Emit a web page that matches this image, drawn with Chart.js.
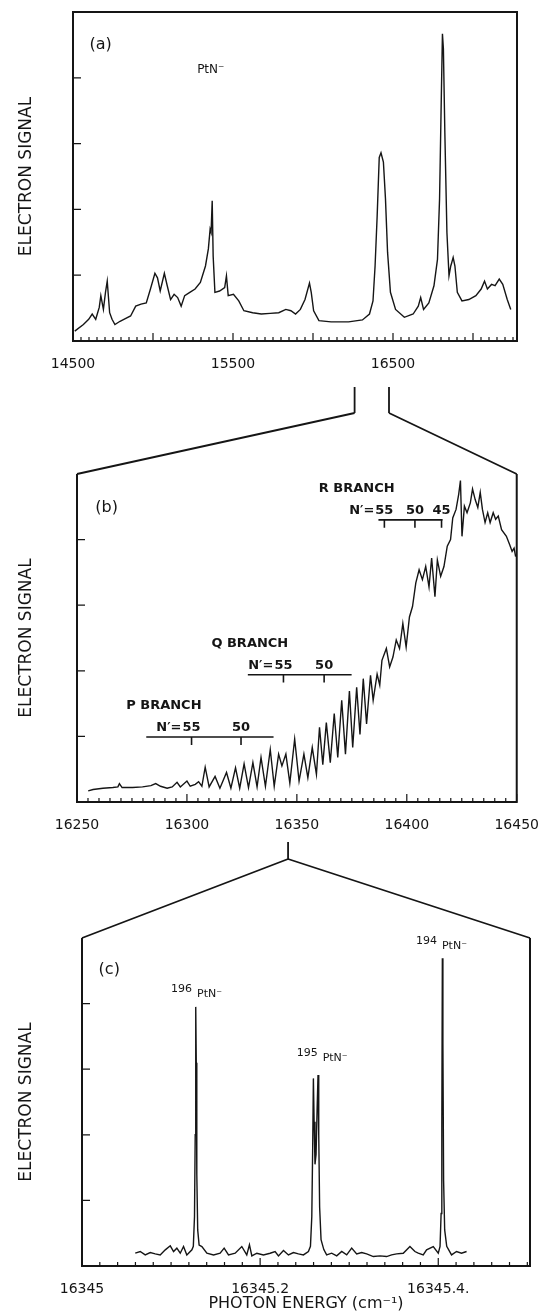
<!DOCTYPE html>
<html>
<head>
<meta charset="utf-8">
<title>PtN- photodetachment spectra</title>
<script src="https://cdn.jsdelivr.net/npm/chart.js@4.4.1/dist/chart.umd.min.js"></script>
<style>
  html, body { margin: 0; padding: 0; background: #fff; }
  #page { position: relative; width: 546px; height: 1313px; overflow: hidden; }
  .panel { position: absolute; left: 0; width: 546px; }
  #boxA { top: 0; height: 380px; }
  #boxB { top: 380px; height: 450px; }
  #boxC { top: 830px; height: 483px; }
</style>
</head>
<body>
<div id="page">
  <div class="panel" id="boxA"><canvas id="chartA"></canvas></div>
  <div class="panel" id="boxB"><canvas id="chartB"></canvas></div>
  <div class="panel" id="boxC"><canvas id="chartC"></canvas></div>
</div>
<script>
const INK = '#151515';
const FAMILY = "'DejaVu Sans', sans-serif";
Chart.defaults.font.family = FAMILY;
Chart.defaults.color = INK;

// (a) survey scan
const aEnergy = [14511, 14565, 14598, 14620, 14642, 14664, 14674, 14690, 14703, 14714,
  14729, 14744, 14762, 14794, 14827, 14860, 14892, 14925, 14958, 14984,
  15012, 15028, 15045, 15071, 15089, 15110, 15132, 15154, 15176, 15198,
  15230, 15263, 15296, 15328, 15346, 15357, 15363, 15370, 15376, 15387,
  15416, 15448, 15459, 15470, 15503, 15536, 15568, 15623, 15677, 15732,
  15786, 15830, 15862, 15891, 15921, 15950, 15978, 15989, 16004, 16037,
  16113, 16222, 16309, 16353, 16375, 16388, 16401, 16414, 16425, 16440,
  16453, 16466, 16484, 16516, 16571, 16626, 16658, 16673, 16691, 16724,
  16756, 16778, 16791, 16800, 16809, 16815, 16824, 16837, 16850, 16861,
  16867, 16876, 16887, 16902, 16931, 16974, 17018, 17051, 17072, 17090,
  17116, 17138, 17164, 17186, 17214, 17236];
const aSignal = [0.15, 0.25, 0.33, 0.41, 0.33, 0.51, 0.69, 0.48, 0.74, 0.91,
  0.43, 0.33, 0.25, 0.30, 0.34, 0.38, 0.53, 0.56, 0.58, 0.79,
  1.03, 0.96, 0.76, 1.03, 0.84, 0.63, 0.71, 0.66, 0.53, 0.69,
  0.74, 0.79, 0.89, 1.14, 1.40, 1.70, 1.65, 2.13, 1.29, 0.74,
  0.76, 0.81, 0.99, 0.69, 0.71, 0.61, 0.46, 0.43, 0.41, 0.42,
  0.43, 0.48, 0.46, 0.41, 0.48, 0.63, 0.88, 0.74, 0.46, 0.31,
  0.29, 0.29, 0.32, 0.41, 0.61, 1.14, 1.90, 2.79, 2.86, 2.72,
  2.16, 1.35, 0.74, 0.48, 0.36, 0.41, 0.53, 0.66, 0.48, 0.58,
  0.84, 1.24, 2.16, 3.43, 4.67, 4.44, 3.17, 1.65, 0.99, 1.14,
  1.19, 1.27, 1.14, 0.74, 0.61, 0.63, 0.69, 0.79, 0.91, 0.79,
  0.86, 0.84, 0.94, 0.86, 0.63, 0.48];
const aTickValues = [14500, 15500, 16500];
const aTickLabels = ['14500', '15500', '16500'];

// (b) rotational structure of the band
const bEnergy = [16255.1, 16257.3, 16261.8, 16266.3, 16268.6, 16269.3, 16270.5, 16275.3, 16279.8, 16283.6,
  16285.8, 16288.0, 16291.0, 16293.3, 16295.5, 16297.0, 16300.0, 16301.5, 16303.8, 16305.3,
  16306.8, 16308.3, 16310.1, 16312.8, 16315.0, 16318.0, 16320.0, 16322.1, 16324.0, 16326.0,
  16328.0, 16330.0, 16331.9, 16333.7, 16335.7, 16337.9, 16339.7, 16341.7, 16343.2, 16345.0,
  16346.8, 16349.0, 16351.0, 16353.2, 16355.0, 16357.0, 16358.9, 16360.3, 16361.8, 16363.4,
  16365.2, 16367.0, 16368.6, 16370.4, 16372.1, 16373.9, 16375.4, 16377.2, 16378.7, 16380.2,
  16381.7, 16383.5, 16384.7, 16386.5, 16387.7, 16388.7, 16390.7, 16392.2, 16393.7, 16395.2,
  16396.7, 16398.2, 16399.7, 16401.2, 16402.6, 16404.1, 16405.6, 16407.1, 16408.6, 16410.1,
  16411.3, 16412.8, 16413.9, 16415.4, 16416.9, 16418.4, 16419.9, 16420.9, 16422.4, 16423.6,
  16424.4, 16425.1, 16426.2, 16427.4, 16428.9, 16429.9, 16431.1, 16432.3, 16433.4, 16434.4,
  16435.6, 16436.8, 16437.9, 16439.3, 16440.4, 16441.6, 16443.1, 16445.3, 16446.8, 16447.9,
  16448.8, 16449.5];
const bSignal = [0.17, 0.19, 0.21, 0.22, 0.23, 0.28, 0.22, 0.22, 0.23, 0.25,
  0.28, 0.24, 0.21, 0.23, 0.30, 0.23, 0.32, 0.24, 0.27, 0.31,
  0.24, 0.53, 0.23, 0.39, 0.21, 0.45, 0.21, 0.52, 0.21, 0.58,
  0.22, 0.60, 0.23, 0.68, 0.24, 0.80, 0.24, 0.73, 0.55, 0.73,
  0.29, 0.96, 0.32, 0.73, 0.37, 0.83, 0.42, 1.14, 0.57, 1.21,
  0.60, 1.35, 0.68, 1.55, 0.73, 1.69, 0.83, 1.75, 1.03, 1.88,
  1.19, 1.93, 1.55, 1.95, 1.78, 2.16, 2.34, 2.06, 2.21, 2.47,
  2.34, 2.72, 2.36, 2.82, 2.98, 3.34, 3.54, 3.39, 3.59, 3.28,
  3.72, 3.13, 3.69, 3.44, 3.59, 3.90, 4.00, 4.33, 4.46, 4.69,
  4.90, 4.05, 4.51, 4.41, 4.56, 4.77, 4.61, 4.49, 4.72, 4.46,
  4.26, 4.41, 4.26, 4.41, 4.31, 4.36, 4.15, 4.05, 3.92, 3.82,
  3.87, 3.74];
const bTickValues = [16250, 16300, 16350, 16400, 16450];
const bTickLabels = ['16250', '16300', '16350', '16400', '16450'];

// branch rulers in (b)
const branchNames = ['P BRANCH', 'Q BRANCH', 'R BRANCH'];
const branchNameX = [16289.5, 16328.6, 16377.2];
const branchLevel = [0.99, 1.94, 4.30];
const branchStart = [16281.5, 16327.7, 16387.1];
const branchEnd = [16339.4, 16374.9, 16416.3];
const branchN = [[55, 50], [55, 50], [55, 50, 45]];
const branchNAt = [[16302.1, 16324.6], [16343.9, 16362.4], [16389.8, 16403.7, 16415.8]];

// (c) single line, isotopes resolved
const cEnergy = [16345.0598, 16345.0654, 16345.0710, 16345.0766, 16345.0822, 16345.0878, 16345.0935, 16345.0991, 16345.1028, 16345.1065,
  16345.1103, 16345.1140, 16345.1177, 16345.1234, 16345.1250, 16345.1263, 16345.1271, 16345.1277, 16345.1283, 16345.1289,
  16345.1299, 16345.1315, 16345.1346, 16345.1402, 16345.1477, 16345.1551, 16345.1596, 16345.1645, 16345.1720, 16345.1794,
  16345.1850, 16345.1880, 16345.1907, 16345.1963, 16345.2037, 16345.2112, 16345.2168, 16345.2206, 16345.2262, 16345.2318,
  16345.2374, 16345.2430, 16345.2486, 16345.2542, 16345.2565, 16345.2580, 16345.2590, 16345.2598, 16345.2606, 16345.2616,
  16345.2628, 16345.2640, 16345.2650, 16345.2658, 16345.2668, 16345.2684, 16345.2715, 16345.2747, 16345.2803, 16345.2860,
  16345.2916, 16345.2972, 16345.3028, 16345.3084, 16345.3140, 16345.3196, 16345.3271, 16345.3346, 16345.3420, 16345.3476,
  16345.3533, 16345.3607, 16345.3682, 16345.3738, 16345.3775, 16345.3831, 16345.3869, 16345.3944, 16345.4000, 16345.4020,
  16345.4032, 16345.4040, 16345.4046, 16345.4052, 16345.4060, 16345.4072, 16345.4095, 16345.4149, 16345.4205, 16345.4261,
  16345.4318];
const cSignal = [0.195, 0.221, 0.169, 0.205, 0.185, 0.169, 0.246, 0.308, 0.221, 0.272,
  0.195, 0.297, 0.169, 0.246, 0.30, 0.75, 2.0, 3.95, 3.1, 1.4,
  0.55, 0.32, 0.297, 0.195, 0.169, 0.195, 0.272, 0.169, 0.195, 0.297,
  0.169, 0.323, 0.154, 0.195, 0.169, 0.195, 0.221, 0.154, 0.236, 0.169,
  0.205, 0.185, 0.169, 0.221, 0.30, 0.75, 1.8, 2.86, 2.2, 1.55,
  1.7, 2.4, 2.91, 2.0, 0.9, 0.4, 0.25, 0.169, 0.195, 0.154,
  0.221, 0.169, 0.272, 0.185, 0.205, 0.185, 0.144, 0.154, 0.144, 0.169,
  0.185, 0.195, 0.297, 0.221, 0.195, 0.169, 0.246, 0.297, 0.195, 0.30,
  0.8, 2.2, 4.69, 3.4, 1.3, 0.55, 0.30, 0.169, 0.221, 0.195,
  0.221];
const cTickValues = [16345, 16345.2, 16345.4];
const cTickLabels = ['16345', '16345.2', '16345.4.'];

const isoMass = ['196', '195', '194'];
const isoX = [16345.100, 16345.241, 16345.375];
const isoY = [4.15, 3.17, 4.87];

const panelTags = ['(a)', '(b)', '(c)'];
const yTickValues = [1, 2, 3, 4];
const yTitle = 'ELECTRON SIGNAL';
const xTitle = 'PHOTON ENERGY (cm\u207B\u00B9)';

const charts = {};

function zip(xs, ys) {
  const pts = [];
  for (let i = 0; i < Math.min(xs.length, ys.length); i++) pts.push({ x: xs[i], y: ys[i] });
  return pts;
}

function onStep(v, step) {
  const r = v / step;
  return Math.abs(r - Math.round(r)) < 1e-4;
}

function labelFor(values, labels) {
  return v => {
    const i = values.findIndex(t => Math.abs(t - v) < 1e-6);
    return i < 0 ? '' : labels[i];
  };
}

// ruler with short ticks for one rotational branch
function rulerPoints(i) {
  const lv = branchLevel[i];
  const pts = [{ x: branchStart[i], y: lv }, { x: branchEnd[i], y: lv }];
  branchNAt[i].forEach(v => {
    pts.push({ x: v, y: null });
    pts.push({ x: v, y: lv });
    pts.push({ x: v, y: lv - 0.12 });
  });
  return pts;
}

function decor(p) {
  return {
    id: 'decor',
    afterDatasetsDraw(chart) {
      const { ctx, chartArea: ca, scales: { x, y } } = chart;
      ctx.save();
      ctx.strokeStyle = INK;
      ctx.fillStyle = INK;

      // expansion lines from the panel above
      if (p.link && charts[p.link.from]) {
        const src = charts[p.link.from].scales.x;
        const xs = p.link.values.map(v => src.getPixelForValue(v));
        ctx.lineWidth = 1.8;
        ctx.beginPath();
        xs.forEach(px => { ctx.moveTo(px, p.link.y0); ctx.lineTo(px, p.link.y1); });
        ctx.moveTo(ca.left, ca.top); ctx.lineTo(xs[0], p.link.y1);
        ctx.moveTo(ca.right, ca.top); ctx.lineTo(xs[xs.length - 1], p.link.y1);
        ctx.stroke();
      }

      // frame
      ctx.lineWidth = 2;
      ctx.beginPath();
      if (p.closed) {
        ctx.rect(ca.left, ca.top, ca.right - ca.left, ca.bottom - ca.top);
      } else {
        ctx.moveTo(ca.left, ca.top); ctx.lineTo(ca.left, ca.bottom);
        ctx.lineTo(ca.right, ca.bottom); ctx.lineTo(ca.right, ca.top);
      }
      ctx.stroke();

      // inward tick marks
      ctx.lineWidth = 1.2;
      ctx.beginPath();
      x.ticks.forEach(t => {
        if (!onStep(t.value, p.xMinor)) return;
        const px = x.getPixelForValue(t.value);
        const len = onStep(t.value, p.xMajor) ? 8 : 4;
        ctx.moveTo(px, ca.bottom); ctx.lineTo(px, ca.bottom - len);
      });
      yTickValues.forEach(v => {
        const py = y.getPixelForValue(v);
        ctx.moveTo(ca.left, py); ctx.lineTo(ca.left + 8, py);
      });
      ctx.stroke();

      // free text
      ctx.textBaseline = 'middle';
      (p.texts || []).forEach(t => {
        ctx.font = t.font;
        ctx.textAlign = 'center';
        ctx.fillText(t.text, x.getPixelForValue(t.x), y.getPixelForValue(t.y));
      });

      // branch names and N' numbers
      if (p.branches) {
        branchNames.forEach((name, i) => {
          const lineY = y.getPixelForValue(branchLevel[i]);
          ctx.font = 'bold 13px ' + FAMILY;
          ctx.textAlign = 'center';
          ctx.fillText(name, x.getPixelForValue(branchNameX[i]), lineY - 31);
          branchN[i].forEach((n, k) => ctx.fillText(String(n), x.getPixelForValue(branchNAt[i][k]), lineY - 9));
          const w = ctx.measureText(String(branchN[i][0])).width;
          ctx.textAlign = 'right';
          ctx.fillText('N\u2032=', x.getPixelForValue(branchNAt[i][0]) - w / 2 - 1, lineY - 9);
        });
      }

      // isotope labels
      if (p.isotopes) {
        isoMass.forEach((m, i) => {
          const px = x.getPixelForValue(isoX[i]);
          const py = y.getPixelForValue(isoY[i]);
          ctx.textAlign = 'left';
          ctx.font = '11px ' + FAMILY;
          ctx.fillText(m, px, py - 5);
          const w = ctx.measureText(m).width;
          ctx.fillText('PtN\u207B', px + w + 5, py);
        });
      }
      ctx.restore();
    }
  };
}

function makePanel(id, p) {
  const ds = [{ data: p.points, borderColor: INK, borderWidth: 1.4, pointRadius: 0, tension: 0, fill: false }];
  (p.rulers || []).forEach(r => ds.push({ data: r, borderColor: INK, borderWidth: 1.6, pointRadius: 0, tension: 0, fill: false }));
  const chart = new Chart(document.getElementById(id), {
    type: 'line',
    data: { datasets: ds },
    options: {
      responsive: true,
      maintainAspectRatio: false,
      animation: false,
      events: [],
      layout: { padding: p.padding },
      plugins: { legend: { display: false }, tooltip: { enabled: false } },
      scales: {
        x: {
          type: 'linear', min: p.xMin, max: p.xMax,
          grid: { display: false }, border: { display: false },
          ticks: {
            stepSize: p.xMinor, includeBounds: false, autoSkip: false,
            maxRotation: 0, minRotation: 0, padding: 7, color: INK,
            font: { size: 14 },
            callback: labelFor(p.tickValues, p.tickLabels)
          },
          title: { display: !!p.xTitle, text: p.xTitle || '', color: INK, font: { size: 16 }, padding: { top: 0, bottom: 0 } },
          afterFit: s => { s.height = p.xHeight; }
        },
        y: {
          min: 0, max: 5,
          grid: { display: false }, border: { display: false },
          ticks: { display: false, stepSize: 1 },
          title: { display: true, text: yTitle, color: INK, font: { size: 17 }, padding: { top: 4, bottom: 0 } },
          afterFit: s => { s.width = p.yWidth; }
        }
      }
    },
    plugins: [decor(p)]
  });
  charts[p.name] = chart;
  return chart;
}

makePanel('chartA', {
  name: 'A',
  points: zip(aEnergy, aSignal),
  xMin: 14500, xMax: 17275, xMinor: 50, xMajor: 500,
  tickValues: aTickValues, tickLabels: aTickLabels,
  padding: { left: 12, right: 29, top: 12, bottom: 0 },
  yWidth: 61, xHeight: 39,
  closed: true,
  texts: [
    { x: 14673, y: 4.50, text: panelTags[0], font: '16px ' + FAMILY },
    { x: 15361, y: 4.12, text: 'PtN\u207B', font: '12px ' + FAMILY }
  ]
});

makePanel('chartB', {
  name: 'B',
  points: zip(bEnergy, bSignal),
  rulers: branchNames.map((_, i) => rulerPoints(i)),
  xMin: 16250, xMax: 16450, xMinor: 5, xMajor: 50,
  tickValues: bTickValues, tickLabels: bTickLabels,
  padding: { left: 12, right: 24, top: 94, bottom: 0 },
  yWidth: 65, xHeight: 28,
  closed: false,
  link: { from: 'A', values: [16260, 16475], y0: 7, y1: 33 },
  branches: true,
  texts: [
    { x: 16263.5, y: 4.48, text: panelTags[1], font: '16px ' + FAMILY }
  ]
});

makePanel('chartC', {
  name: 'C',
  points: zip(cEnergy, cSignal),
  xMin: 16345, xMax: 16345.503, xMinor: 0.02, xMajor: 0.2,
  tickValues: cTickValues, tickLabels: cTickLabels,
  xTitle: xTitle,
  padding: { left: 12, right: 16, top: 108, bottom: 0 },
  yWidth: 70, xHeight: 47,
  closed: false,
  link: { from: 'B', values: [16346], y0: 12, y1: 29 },
  isotopes: true,
  texts: [
    { x: 16345.0306, y: 4.51, text: panelTags[2], font: '16px ' + FAMILY }
  ]
});
</script>
</body>
</html>
